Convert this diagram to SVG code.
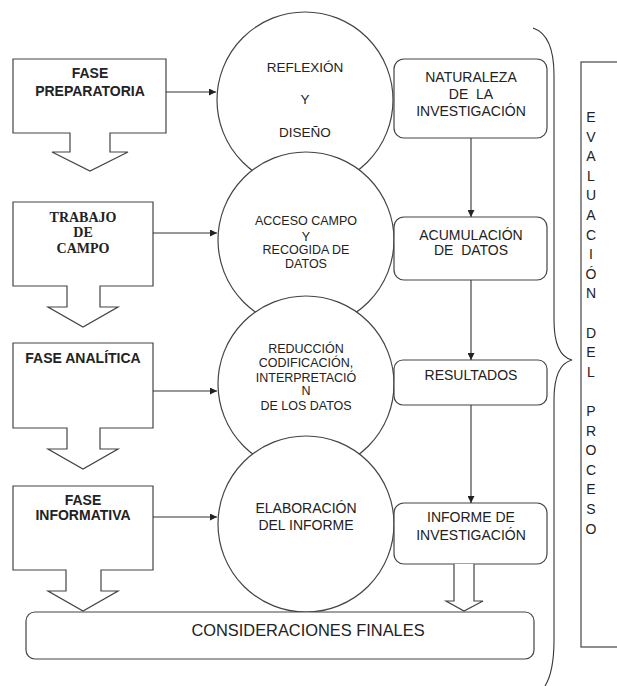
<svg xmlns="http://www.w3.org/2000/svg" width="617" height="686" viewBox="0 0 617 686">
<defs>
<marker id="ah" viewBox="0 0 10 10" refX="10" refY="5" markerWidth="8" markerHeight="7" markerUnits="userSpaceOnUse" orient="auto">
<path d="M0,0 L10,5 L0,10 Z" fill="#222"/>
</marker>
</defs>
<style>
.sh{fill:#fff;stroke:#444;stroke-width:1.2}
.ln{fill:none;stroke:#333;stroke-width:1.1}
.t{font-family:"Liberation Sans",Arial,sans-serif;fill:#222;text-anchor:middle}
.b{font-weight:bold}
.s{font-family:"Liberation Serif","Times New Roman",serif;font-weight:bold;fill:#222;text-anchor:middle}
</style>
<rect width="617" height="686" fill="#fff"/>

<g id="fase-preparatoria">
<path class="sh" d="M13,59 H166 V133 H110 V152 H128 L90,171 L52,152 H70 V133 H13 Z"/>
<text class="t b" font-size="14" x="90" y="78">FASE</text>
<text class="t b" font-size="14" x="90" y="96">PREPARATORIA</text>
</g>
<g id="trabajo-campo">
<path class="sh" d="M13,202 H153 V286 H100 V307 H118 L83,327 L48,307 H67 V286 H13 Z"/>
<text class="s" font-size="14" x="83" y="222">TRABAJO</text>
<text class="s" font-size="14" x="83" y="237">DE</text>
<text class="s" font-size="14" x="83" y="253">CAMPO</text>
</g>
<g id="fase-analitica">
<path class="sh" d="M13,343 H153 V428 H100 V449 H118 L83,469 L48,449 H67 V428 H13 Z"/>
<text class="t b" font-size="14" x="83" y="363">FASE ANALÍTICA</text>
</g>
<g id="fase-informativa">
<path class="sh" d="M13,486 H153 V570 H101 V591 H118 L83,611 L48,591 H66 V570 H13 Z"/>
<text class="t b" font-size="14" x="83" y="505">FASE</text>
<text class="t b" font-size="14" x="83" y="520">INFORMATIVA</text>
</g>

<g id="reflexion">
<circle class="sh" cx="305" cy="100" r="88"/>
<text class="t" font-size="13.5" x="305" y="72">REFLEXIÓN</text>
<text class="t" font-size="13.5" x="305" y="104">Y</text>
<text class="t" font-size="13.5" x="305" y="137">DISEÑO</text>
</g>
<g id="acceso-campo">
<circle class="sh" cx="306" cy="240" r="88"/>
<text class="t" font-size="12.5" x="306" y="224.5">ACCESO CAMPO</text>
<text class="t" font-size="12.5" x="306" y="240.5">Y</text>
<text class="t" font-size="12.5" x="306" y="254">RECOGIDA DE</text>
<text class="t" font-size="12.5" x="306" y="268">DATOS</text>
</g>
<g id="reduccion">
<circle class="sh" cx="306" cy="384" r="88"/>
<text class="t" font-size="12.5" x="306" y="352.5">REDUCCIÓN</text>
<text class="t" font-size="12.5" x="306" y="366.5">CODIFICACIÓN,</text>
<text class="t" font-size="12.5" x="306" y="381.5">INTERPRETACIÓ</text>
<text class="t" font-size="12.5" x="306" y="395">N</text>
<text class="t" font-size="12.5" x="306" y="409.5">DE LOS DATOS</text>
</g>
<g id="elaboracion">
<circle class="sh" cx="306" cy="524" r="88"/>
<text class="t" font-size="14" x="306" y="513">ELABORACIÓN</text>
<text class="t" font-size="14" x="306" y="530">DEL INFORME</text>
</g>

<g id="naturaleza">
<rect class="sh" x="394" y="59" width="153" height="79" rx="10"/>
<text class="t" font-size="14" x="471" y="82">NATURALEZA</text>
<text class="t" font-size="14" x="471" y="99" xml:space="preserve">DE  LA</text>
<text class="t" font-size="14" x="471" y="116">INVESTIGACIÓN</text>
</g>
<g id="acumulacion">
<rect class="sh" x="394" y="217" width="153" height="63" rx="10"/>
<text class="t" font-size="14" x="471" y="240">ACUMULACIÓN</text>
<text class="t" font-size="14" x="471" y="255" xml:space="preserve">DE  DATOS</text>
</g>
<g id="resultados">
<rect class="sh" x="394" y="360" width="153" height="45" rx="9"/>
<text class="t" font-size="14" x="471" y="380">RESULTADOS</text>
</g>
<g id="informe">
<rect class="sh" x="394" y="503" width="153" height="61" rx="10"/>
<text class="t" font-size="14" x="471" y="522">INFORME DE</text>
<text class="t" font-size="14" x="471" y="540">INVESTIGACIÓN</text>
<path class="sh" d="M454,564 V601 H446 L464,611 L483,601 H474 V564"/>
</g>

<g id="consideraciones">
<rect class="sh" x="26" y="612" width="508" height="47" rx="9"/>
<text class="t" font-size="16.4" x="308" y="636">CONSIDERACIONES FINALES</text>
</g>

<g id="evaluacion">
<rect class="sh" x="581" y="62" width="60" height="585"/>
<g class="t" font-size="14">
<text x="591" y="122">E</text>
<text x="591" y="141.6">V</text>
<text x="591" y="161.2">A</text>
<text x="591" y="180.8">L</text>
<text x="591" y="200.4">U</text>
<text x="591" y="220">A</text>
<text x="591" y="239.6">C</text>
<text x="591" y="259.2">I</text>
<text x="591" y="278.8">Ó</text>
<text x="591" y="298.4">N</text>
<text x="591" y="337.6">D</text>
<text x="591" y="357.2">E</text>
<text x="591" y="376.8">L</text>
<text x="591" y="416">P</text>
<text x="591" y="435.6">R</text>
<text x="591" y="455.2">O</text>
<text x="591" y="474.8">C</text>
<text x="591" y="494.4">E</text>
<text x="591" y="514">S</text>
<text x="591" y="533.6">O</text>
</g>
</g>

<g id="connectors">
<line class="ln" x1="166" y1="92" x2="216" y2="92" marker-end="url(#ah)"/>
<line class="ln" x1="153" y1="233" x2="217" y2="233" marker-end="url(#ah)"/>
<line class="ln" x1="153" y1="391" x2="217" y2="391" marker-end="url(#ah)"/>
<line class="ln" x1="153" y1="517" x2="217" y2="517" marker-end="url(#ah)"/>
<line class="ln" x1="471" y1="138" x2="471" y2="217" marker-end="url(#ah)"/>
<line class="ln" x1="471" y1="280" x2="471" y2="360" marker-end="url(#ah)"/>
<line class="ln" x1="471" y1="405" x2="471" y2="503" marker-end="url(#ah)"/>
<path id="brace" class="ln" d="M533,28 C548,33 554,50 554,75 L554,320 C554,345 560,357 572,360 C560,363 554,375 554,400 L554,640 C554,665 550,678 545,686"/>
</g>
</svg>
